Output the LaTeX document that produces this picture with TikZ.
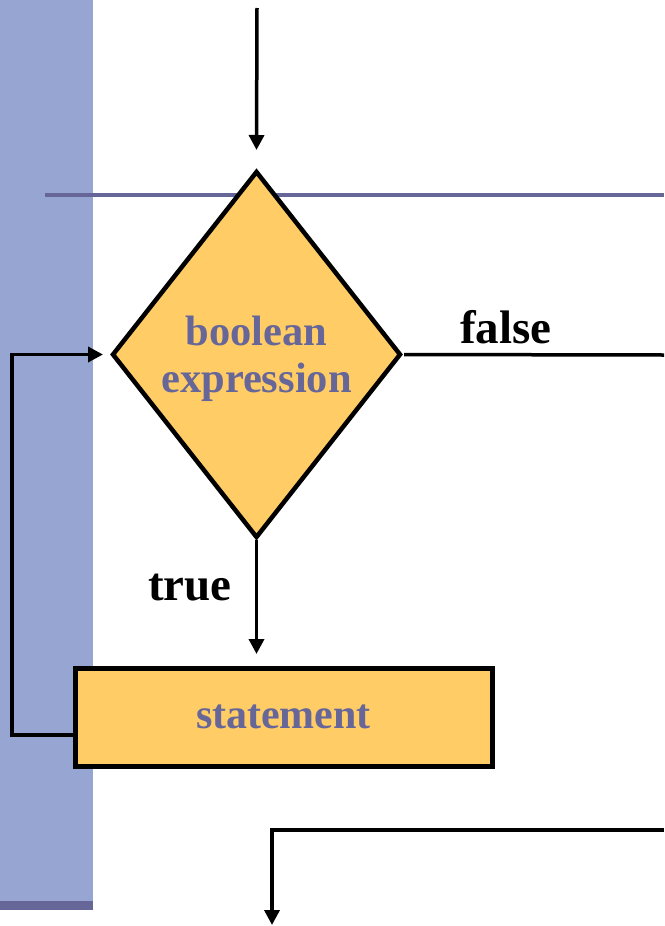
\documentclass[tikz,border=0pt]{standalone}
\usepackage{fontspec}
\setmainfont{Liberation Serif}
\usetikzlibrary{shapes.geometric,arrows.meta,calc}
\definecolor{barblue}{HTML}{96A5D2}
\definecolor{slate}{HTML}{666699}
\definecolor{boxyellow}{HTML}{FFCC66}
\begin{document}
\begin{tikzpicture}[x=1pt,y=-1pt,
  arr/.style={line width=3.5pt,-{Triangle[length=15pt,width=15pt]}},
  conn/.style={line width=3.5pt},
  decision/.style={diamond,draw=black,line width=4.5pt,fill=boxyellow,
    minimum width=287pt,minimum height=365pt,inner sep=0pt,outer sep=0pt,
    align=center,text=slate,font=\bfseries\fontsize{42.5}{47}\selectfont},
  stmtbox/.style={rectangle,draw=black,line width=5pt,fill=boxyellow,
    minimum width=417pt,minimum height=98pt,inner sep=0pt,outer sep=0pt,
    text=slate,font=\bfseries\fontsize{42}{48}\selectfont},
  lbl/.style={font=\bfseries\fontsize{47}{52}\selectfont,anchor=base,inner sep=0pt}]
\useasboundingbox (0,0) rectangle (664,926);
\fill[white] (0,0) rectangle (664,926);
% left bar
\fill[barblue] (0,0) rectangle (93,903);
\fill[slate] (0,901) rectangle (93,910);
% horizontal rule
\draw[slate,line width=4pt] (45,195) -- (664,195);
% nodes
\node[decision] (d) at (256.5,354.5) {\rule{0pt}{39pt}boolean\\expression};
\node[stmtbox] (st) at (283.5,717) {statement};
\node[lbl] (f) at (506,343) {false};
\node[lbl] (t) at (190,600) {true};
% connectors
\coordinate (top) at (257,8);
\coordinate (fr) at (664,355);
\coordinate (lp) at (12,500);
\coordinate (bin) at (664,830);
\coordinate (bout) at (272,925);
\draw[arr] (top) -- ([yshift=22pt]d.north);
\draw[conn] ([xshift=4pt]d.east) -- (fr);
\draw[arr] ([yshift=-3pt]d.south) -- ($(st.north -| d.south)+(0,-14)$);
\draw[arr] ([yshift=-18pt]st.west) -| (lp) |- ([xshift=-10pt]d.west);
\draw[arr] (bin) -| (bout);
\end{tikzpicture}
\end{document}
